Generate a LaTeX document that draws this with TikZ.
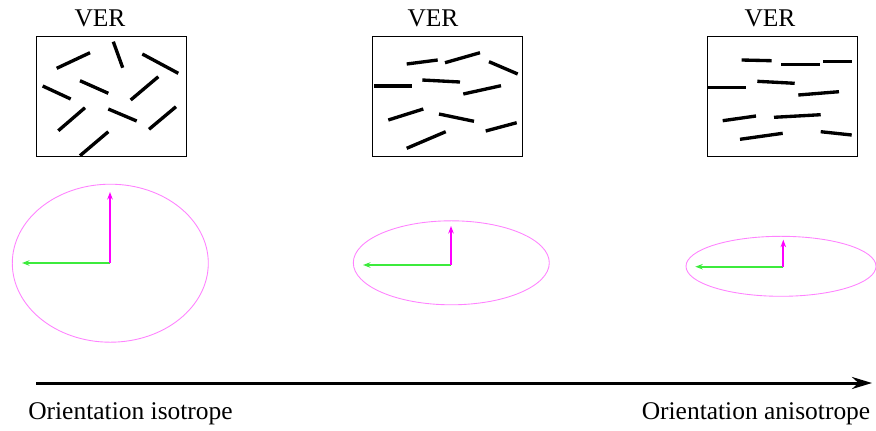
\documentclass[tikz,border=0pt]{standalone}
\usepackage{fontspec}
\setmainfont{Liberation Serif}
\usetikzlibrary{arrows.meta}
\definecolor{vgreen}{RGB}{60,235,60}
\definecolor{vmag}{RGB}{255,0,255}
\definecolor{emag}{RGB}{255,130,255}

\begin{document}
\begin{tikzpicture}[x=0.02cm, y=-0.02cm,
  font=\fontsize{14.5}{17}\selectfont,
  ver/.style={draw=black, line width=0.6pt, inner sep=0pt, minimum width=3cm, minimum height=2.4cm},
  fibre/.style={line width=1.9pt},
  lbl/.style={anchor=base, inner sep=0pt},
  ell/.style={emag, line width=0.5pt},
  vup/.style={-{Stealth[length=1.5mm,width=1.1mm]}, vmag, line width=1.1pt},
  vleft/.style={-{Stealth[length=1.5mm,width=1.1mm]}, vgreen, line width=1pt},
  axis/.style={-{Stealth[length=4mm,width=2.4mm]}, line width=1.7pt}]
  \useasboundingbox (0,0) rectangle (876,430);

  % volumes elementaires
  \node[ver] (box1) at (111.5,96.5) {};
  \node[ver] (box2) at (447.5,96.5) {};
  \node[ver] (box3) at (782.5,96.5) {};
  \node[lbl] (ver1) at (100,26) {VER};
  \node[lbl] (ver2) at (433,26) {VER};
  \node[lbl] (ver3) at (770,26) {VER};

  % fibres, isotrope
  \foreach \a/\b/\c/\d in {56.7/68.3/90/52.7, 113.3/41.7/122.7/67.7, 142.3/54/178.3/73.3,
      42.7/86/70.7/99, 80/80.7/108.3/93.3, 130.7/100/158.3/76.7, 58.3/130.7/85/107.7,
      108.3/109/136.7/121, 149/129.3/176/106.7, 80/155.7/108.3/131.7}
    \draw[fibre] (\a,\b) -- (\c,\d);
  % fibres, intermediaire
  \foreach \a/\b/\c/\d in {406.7/64/437.7/60, 445/62.7/480/52.7, 489/61.7/517.7/74,
      374.3/86/411.7/86, 422.3/80/460/82, 463.3/94/501/85.7, 388.3/120/423.3/109,
      439/114/474/121.3, 485.7/131/516.7/122.7, 406.7/148.3/445.7/131.7}
    \draw[fibre] (\a,\b) -- (\c,\d);
  % fibres, anisotrope
  \foreach \a/\b/\c/\d in {741.7/60/771.7/60.7, 781/64.3/820/64.3, 823.3/61.3/852.3/61.3,
      708.3/87.3/746/87.3, 757.3/81.3/794.7/83.3, 798.3/95/839/91.7, 722.7/120.7/756/116,
      774/117.3/820.7/114.7, 740/139.3/782.7/133.3, 820.7/131.7/851.7/135}
    \draw[fibre] (\a,\b) -- (\c,\d);

  % ellipses d'orientation
  \foreach \i/\cx/\cy/\rx/\ry/\ox/\oy/\up in {1/110.3/263.2/98/79/110/263/71,
      2/451.3/262.8/98/42/451/265/39, 3/781/266.3/95/30/783.3/266.7/27} {
    \draw[ell] (\cx,\cy) ellipse [x radius=\rx, y radius=\ry];
    \coordinate (o\i) at (\ox,\oy);
    \coordinate (t\i) at (\ox,\oy-\up);
    \coordinate (l\i) at (\ox-88,\oy);
    \draw[vleft] (o\i) -- (l\i);
    \draw[vup] (o\i) -- (t\i);
  }

  % axe
  \coordinate (a0) at (36,383);
  \coordinate (a1) at (872,383);
  \draw[axis] (a0) -- (a1);
  \node[lbl] (iso) at (130.5,419) {Orientation isotrope};
  \node[lbl] (aniso) at (756,419) {Orientation anisotrope};
\end{tikzpicture}
\end{document}
